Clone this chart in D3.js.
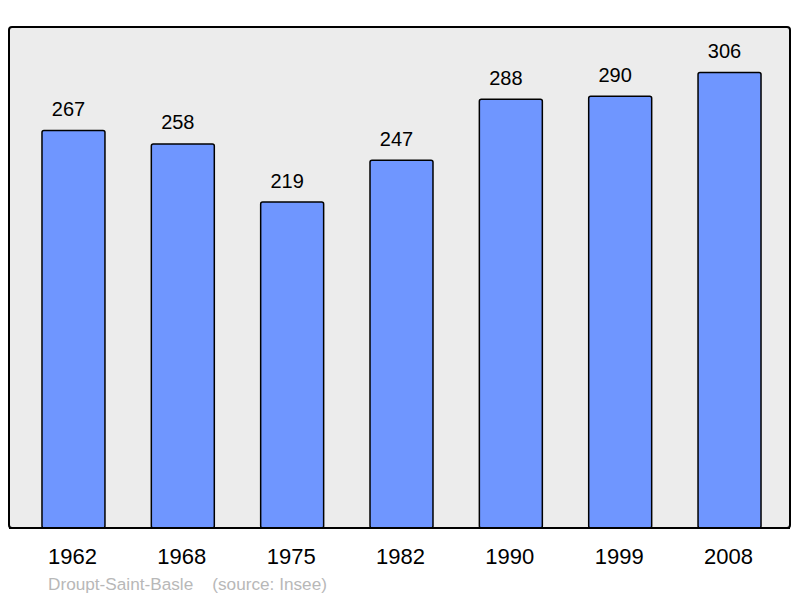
<!DOCTYPE html>
<html>
<head>
<meta charset="utf-8">
<style>
    body { margin: 0; background: #fff; }
    text { font-family: "Liberation Sans", Arial, sans-serif; }
    .frame { fill: #ececec; stroke: #000; stroke-width: 2; }
    .bar { fill: #6f96ff; stroke: #000; stroke-width: 1.5; }
</style>
</head>
<body>
<script src="https://d3js.org/d3.v7.min.js"></script>
<div id="chart"></div>
<script>
var years = ["1962", "1968", "1975", "1982", "1990", "1999", "2008"];
var population = [267, 258, 219, 247, 288, 290, 306];
var commune = "Droupt-Saint-Basle";
var source = "(source: Insee)";

var width = 800, height = 598;
var plot = {left: 9, top: 27, right: 790, bottom: 528};

var svg = d3.select("#chart").append("svg")
    .attr("width", width)
    .attr("height", height);

var x = d3.scaleBand()
    .domain(years)
    .range([18.8, 784.2])
    .paddingInner(0.424)
    .paddingOuter(0.212);

var y = d3.scaleLinear()
    .domain([0, d3.max(population) * 1.1])
    .range([plot.bottom, plot.top]);

svg.append("rect")
    .attr("class", "frame")
    .attr("x", plot.left)
    .attr("y", plot.top)
    .attr("width", plot.right - plot.left)
    .attr("height", plot.bottom - plot.top)
    .attr("rx", 3);

var data = years.map(function(d, i) { return {year: d, value: population[i]}; });

svg.selectAll(".bar")
    .data(data)
    .enter().append("rect")
    .attr("class", "bar")
    .attr("x", function(d) { return x(d.year); })
    .attr("y", function(d) { return y(d.value); })
    .attr("width", x.bandwidth())
    .attr("height", function(d) { return plot.bottom - y(d.value); })
    .attr("rx", 2);

// redraw the bottom edge over the bars
svg.append("line")
    .attr("x1", plot.left).attr("x2", plot.right)
    .attr("y1", plot.bottom).attr("y2", plot.bottom)
    .attr("stroke", "#000").attr("stroke-width", 2);

// value labels sit a little left of the bar centre in the original
svg.selectAll(".val")
    .data(data)
    .enter().append("text")
    .attr("class", "val")
    .attr("x", function(d) { return x(d.year) + x.bandwidth() / 2 - 5; })
    .attr("y", function(d) { return y(d.value) - 14.5; })
    .attr("text-anchor", "middle")
    .attr("font-size", 20)
    .attr("fill", "#000")
    .text(function(d) { return d.value; });

svg.selectAll(".yr")
    .data(years)
    .enter().append("text")
    .attr("class", "yr")
    .attr("x", function(d) { return x(d) + x.bandwidth() / 2 - 1; })
    .attr("y", 564)
    .attr("text-anchor", "middle")
    .attr("font-size", 22)
    .attr("fill", "#000")
    .text(function(d) { return d; });

svg.append("text")
    .attr("x", 48)
    .attr("y", 590)
    .attr("font-size", 17.2)
    .attr("fill", "#b8b8b8")
    .style("white-space", "pre")
    .text(commune + "    " + source);
</script>
</body>
</html>
